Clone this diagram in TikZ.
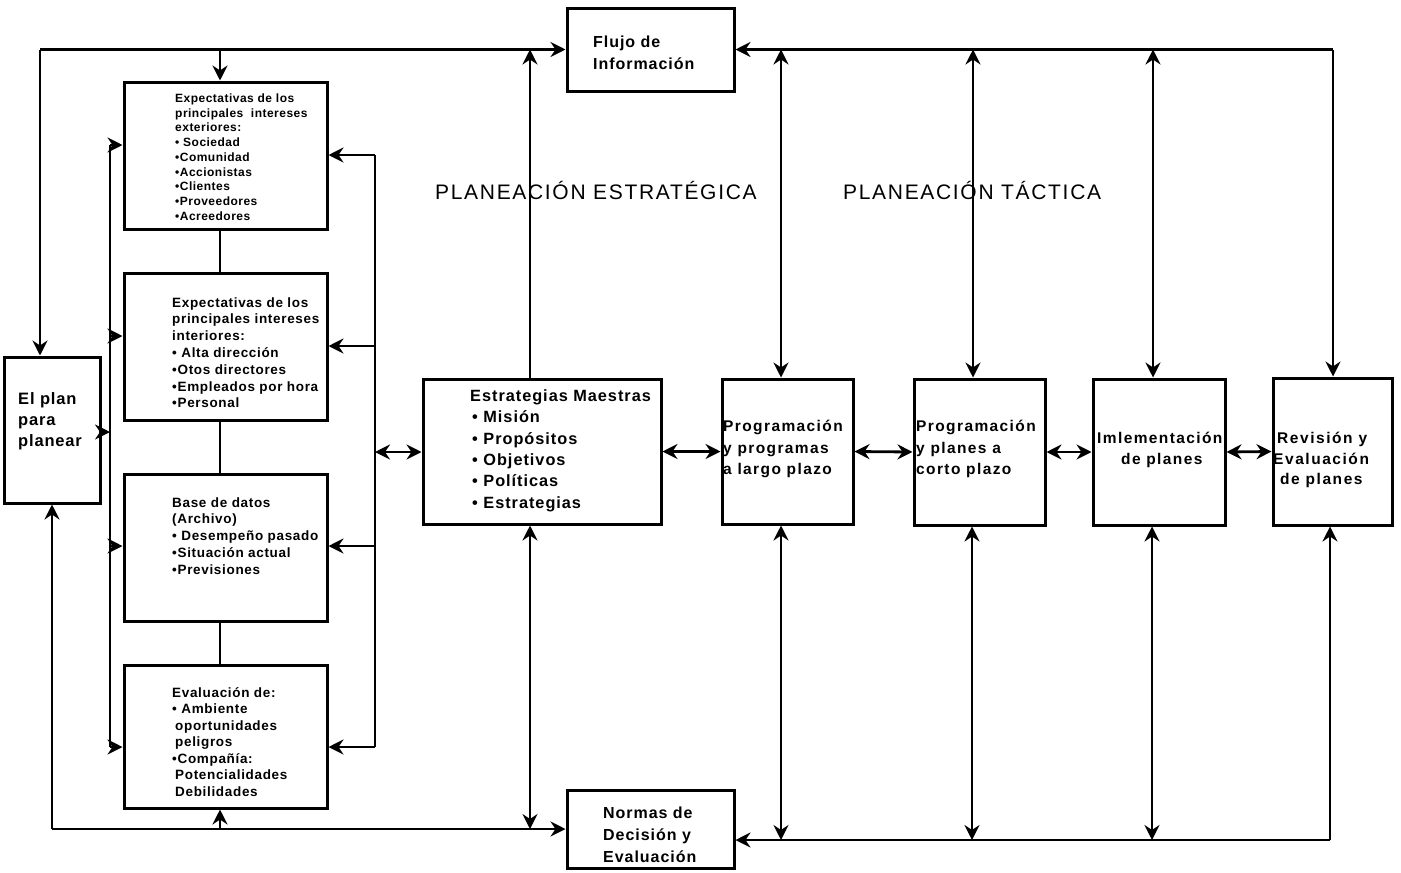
\documentclass[tikz,border=0pt]{standalone}
\usepackage{fontspec}
\setmainfont{Liberation Sans}
\newfontfamily\boxfont{Liberation Sans Bold}[LetterSpace=5]
\newfontfamily\headfont{Liberation Sans}[LetterSpace=8]
\usetikzlibrary{arrows.meta}
% font size / baseline skip for box texts
\newcommand\fsz[3][5]{\boxfont\fontsize{#2}{#3}\selectfont\addfontfeature{LetterSpace=#1}}
% fixed height for the first line of a text block
\newcommand\firstln{\rule{0pt}{.8em}}
\begin{document}
\begin{tikzpicture}[x=1pt,y=-1pt,
  box/.style={draw, line width=3pt, inner sep=0pt},
  lbl/.style={anchor=north west, inner sep=0pt, align=left},
  conn/.style={line width=2.8pt},
  >={Stealth[length=15pt,width=15pt,inset=5pt]}]
\useasboundingbox[fill=white] (0,0) rectangle (1401,873);

% ---------- boxes ----------
\node[box, minimum width=96pt,  minimum height=146pt] (plan)   at (52,430)     {};
\node[box, minimum width=203pt, minimum height=147pt] (b1)     at (225.5,155.5) {};
\node[box, minimum width=203pt, minimum height=147pt] (b2)     at (225.5,346.5) {};
\node[box, minimum width=203pt, minimum height=147pt] (b3)     at (225.5,547.5) {};
\node[box, minimum width=203pt, minimum height=143pt] (b4)     at (225.5,736.5) {};
\node[box, minimum width=238pt, minimum height=145pt] (estr)   at (542,451.5)   {};
\node[box, minimum width=167pt, minimum height=83pt]  (flujo)  at (650.5,49.5)  {};
\node[box, minimum width=167pt, minimum height=78pt]  (normas) at (650.5,829)   {};
\node[box, minimum width=131pt, minimum height=145pt] (pl)     at (787.5,451.5) {};
\node[box, minimum width=131pt, minimum height=146pt] (pc)     at (979.5,452)   {};
\node[box, minimum width=132pt, minimum height=146pt] (impl)   at (1159,452)    {};
\node[box, minimum width=119pt, minimum height=147pt] (rev)    at (1332.5,451.5) {};

% ---------- texts ----------
\node[lbl, font={\fsz{16.5}{21}}] (tplan) at (18,391)
  {\firstln El plan\\para\\planear};
\node[lbl, font={\fsz[4]{12}{14.7}}] (tb1) at (175,92.7)
  {\firstln Expectativas de los\\principales\ \ intereses\\exteriores:\\%
   • Sociedad\\•Comunidad\\•Accionistas\\•Clientes\\•Proveedores\\•Acreedores};
\node[lbl, font={\fsz{13.5}{16.8}}] (tb2) at (172,296.1)
  {\firstln Expectativas de los\\principales intereses\\interiores:\\%
   • Alta dirección\\•Otos directores\\•Empleados por hora\\•Personal};
\node[lbl, font={\fsz{13.5}{16.75}}] (tb3) at (172,496.1)
  {\firstln Base de datos\\(Archivo)\\• Desempeño pasado\\•Situación actual\\•Previsiones};
\node[lbl, font={\fsz{13.5}{16.5}}] (tb4) at (172,686.1)
  {\firstln Evaluación de:\\• Ambiente\\\hspace*{3pt}oportunidades\\\hspace*{3pt}peligros\\%
   •Compañía:\\\hspace*{3pt}Potencialidades\\\hspace*{3pt}Debilidades};
\node[lbl, font={\fsz[6]{16.3}{21.4}}] (testr) at (470,388)
  {\firstln Estrategias Maestras\\\hspace*{2pt}• Misión\\\hspace*{2pt}• Propósitos\\%
   \hspace*{2pt}• Objetivos\\\hspace*{2pt}• Políticas\\\hspace*{2pt}• Estrategias};
\node[lbl, font={\fsz[6]{16}{22}}] (tflujo) at (593,34)
  {\firstln Flujo de\\Información};
\node[lbl, font={\fsz[6]{16}{22}}] (tnormas) at (603,805.5)
  {\firstln Normas de\\Decisión y\\Evaluación};
\node[lbl, font={\fsz[9]{15.5}{21.5}}] (tpl) at (723,419)
  {\firstln Programación\\y programas\\a largo plazo};
\node[lbl, font={\fsz[9]{15.5}{21.5}}] (tpc) at (916,419)
  {\firstln Programación\\y planes a\\corto plazo};
\node[lbl, font={\fsz[9]{15.5}{21}}] (timpl) at (1097,431)
  {\firstln Imlementación\\\hspace*{24pt}de planes};
\node[lbl, font={\fsz[10]{15.5}{20.5}}] (trev) at (1273,431)
  {\firstln\hspace*{4pt}Revisión y\\Evaluación\\\hspace*{7pt}de planes};

\node[anchor=base west, inner sep=0pt, font={\headfont\fontsize{21}{25}\selectfont}]
  (hest) at (435,199.5) {PLANEACIÓN ESTRATÉGICA};
\node[anchor=base west, inner sep=0pt, font={\headfont\fontsize{21}{25}\selectfont}]
  (htac) at (843,199.5) {PLANEACIÓN TÁCTICA};

% ---------- junction points ----------
\coordinate (tl) at (40,49.5);
\coordinate (t0) at (220,49.5);
\coordinate (t1) at (530,49.5);
\coordinate (t2) at (781,49.5);
\coordinate (t3) at (973,49.5);
\coordinate (t4) at (1153,49.5);
\coordinate (tr) at (1333,49.5);
\coordinate (bl) at (52,829);
\coordinate (b0) at (220,829);
\coordinate (b1c) at (530,829);
\coordinate (b2c) at (781,840);
\coordinate (b3c) at (972,840);
\coordinate (b4c) at (1152,840);
\coordinate (br) at (1330,840);
\coordinate (L1) at (110,145);
\coordinate (L2) at (110,336);
\coordinate (Lp) at (110,432);
\coordinate (L3) at (110,546);
\coordinate (L4) at (110,747);
\coordinate (R1) at (375,155);
\coordinate (R2) at (375,346);
\coordinate (Re) at (375,452);
\coordinate (R3) at (375,546);
\coordinate (R4) at (375,747);

% ---------- top information line ----------
\draw[conn,->] (tl) -- (tl -| flujo.west);
\draw[conn,->] (tl) -- (tl |- plan.north);
\draw[conn,->] (t0) -- (t0 |- b1.north);
\draw[conn,->] (t1 |- estr.north) -- (t1);
\draw[conn,<->] (t2) -- (t2 |- pl.north);
\draw[conn,<->] (t3) -- (t3 |- pc.north);
\draw[conn,<->] (t4) -- (t4 |- impl.north);
\draw[conn,->] (tr) -- (tr -| flujo.east);
\draw[conn,->] (tr) -- (tr |- rev.north);

% ---------- left column ----------
\draw[conn] (b1.south -| t0) -- (b2.north -| t0);
\draw[conn] (b2.south -| t0) -- (b3.north -| t0);
\draw[conn] (b3.south -| t0) -- (b4.north -| t0);
\draw[conn] (L1) -- (L4);
\draw[conn,->] (L1) -- (L1 -| b1.west);
\draw[conn,->] (L2) -- (L2 -| b2.west);
\draw[conn,->] (L3) -- (L3 -| b3.west);
\draw[conn,->] (L4) -- (L4 -| b4.west);
\draw[conn,->] (Lp -| plan.east) -- (Lp);
\draw[conn] (R1) -- (R4);
\draw[conn,->] (R1) -- (R1 -| b1.east);
\draw[conn,->] (R2) -- (R2 -| b2.east);
\draw[conn,->] (R3) -- (R3 -| b3.east);
\draw[conn,->] (R4) -- (R4 -| b4.east);
\draw[conn,<->] (Re) -- (Re -| estr.west);

% ---------- planning chain ----------
\draw[conn,<->] (estr.east) -- (pl.west);
\draw[conn,<->] (pl.east) -- (pc.west);
\draw[conn,<->] (pc.east) -- (impl.west);
\draw[conn,<->] (impl.east) -- (rev.west);

% ---------- bottom decision line ----------
\draw[conn,->] (bl) -- (bl |- plan.south);
\draw[conn,->] (bl) -- (bl -| normas.west);
\draw[conn,->] (b0) -- (b0 |- b4.south);
\draw[conn,<->] (b1c |- estr.south) -- (b1c);
\draw[conn,->] (br) -- (br -| normas.east);
\draw[conn,->] (br) -- (br |- rev.south);
\draw[conn,<->] (b2c |- pl.south) -- (b2c);
\draw[conn,<->] (b3c |- pc.south) -- (b3c);
\draw[conn,<->] (b4c |- impl.south) -- (b4c);
\end{tikzpicture}
\end{document}
